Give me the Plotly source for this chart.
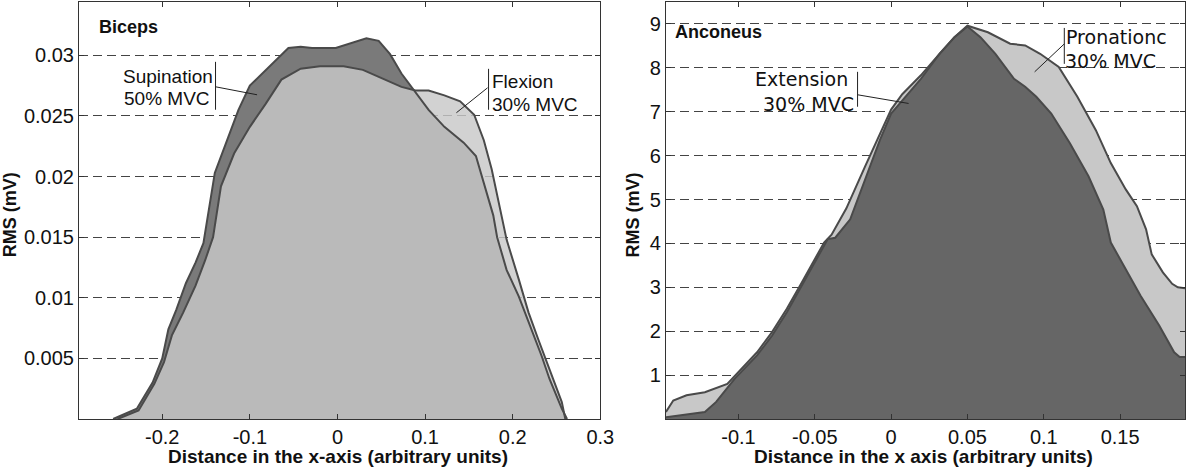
import plotly.graph_objects as go

# ---------------- data: Biceps ----------------
sup_x = [-0.256, -0.229, -0.211, -0.2, -0.193, -0.184, -0.173, -0.162, -0.153, -0.14, -0.127,
         -0.113, -0.1, -0.082, -0.056, -0.042, -0.029, -0.002, 0.016, 0.033, 0.047, 0.06,
         0.073, 0.089, 0.104, 0.122, 0.144, 0.158, 0.1667, 0.1778, 0.1822, 0.193, 0.207,
         0.22, 0.233, 0.242, 0.256, 0.262]
sup_y = [0.0, 0.00085, 0.0030, 0.0050, 0.0074, 0.0090, 0.0112, 0.0129, 0.0145, 0.0203, 0.0228,
         0.0255, 0.0275, 0.0288, 0.0306, 0.0307, 0.0306, 0.0306, 0.0310, 0.0314, 0.0312, 0.0301,
         0.0285, 0.0269, 0.0255, 0.0241, 0.0228, 0.0217, 0.0195, 0.0168, 0.0150, 0.0123, 0.0101,
         0.0077, 0.0052, 0.0033, 0.00085, 0.0]

flex_x = [-0.251, -0.227, -0.209, -0.198, -0.189, -0.176, -0.162, -0.151, -0.142, -0.133,
          -0.118, -0.1, -0.082, -0.064, -0.042, -0.02, 0.007, 0.029, 0.051, 0.073, 0.089,
          0.104, 0.122, 0.14, 0.156, 0.167, 0.176, 0.184, 0.193, 0.207, 0.218, 0.229, 0.242,
          0.256, 0.26]
flex_y = [0.0, 0.0007, 0.0029, 0.0047, 0.0069, 0.0088, 0.0110, 0.0131, 0.0150, 0.0192,
          0.0219, 0.0241, 0.0260, 0.0280, 0.0289, 0.0291, 0.0291, 0.0288, 0.0281, 0.0274, 0.0271,
          0.0271, 0.0267, 0.0262, 0.0251, 0.0230, 0.0206, 0.0178, 0.0148, 0.0115, 0.0088, 0.0066,
          0.0041, 0.0014, 0.0]

# ---------------- data: Anconeus ----------------
ext_x = [-0.1475, -0.122, -0.1146, -0.1024, -0.0878, -0.078, -0.0683, -0.0585, -0.0488, -0.0415,
         -0.0366, -0.0268, -0.0171, -0.0073, 0.0, 0.0073, 0.0195, 0.0317, 0.0415, 0.05, 0.0585,
         0.0683, 0.0805, 0.0878, 0.0951, 0.1049, 0.1171, 0.1293, 0.139, 0.1439, 0.1537, 0.1634,
         0.1756, 0.1854, 0.189, 0.1925]
ext_y = [0.04, 0.16, 0.39, 0.92, 1.45, 1.9, 2.43, 3.04, 3.64, 4.1,
         4.13, 4.55, 5.45, 6.36, 6.96, 7.26, 7.75, 8.32, 8.7, 8.94, 8.7,
         8.32, 7.75, 7.57, 7.34, 6.96, 6.28, 5.53, 4.77, 4.02, 3.42, 2.81,
         2.13, 1.52, 1.41, 1.41]

pro_x = [-0.1475, -0.1427, -0.134, -0.122, -0.1073, -0.1, -0.0878, -0.078, -0.0683, -0.0585,
         -0.0488, -0.0439, -0.039, -0.0293, -0.0171, -0.0073, 0.0, 0.0073, 0.0195, 0.0317, 0.0415,
         0.05, 0.0634, 0.078, 0.0878, 0.0976, 0.1098, 0.122, 0.1341, 0.1439, 0.1537, 0.161,
         0.167, 0.1707, 0.178, 0.1841, 0.1878, 0.1925]
pro_y = [0.16, 0.42, 0.54, 0.61, 0.8, 1.07, 1.52, 1.98, 2.51, 3.11,
         3.72, 4.02, 4.2, 4.8, 5.75, 6.5, 7.05, 7.4, 7.83, 8.32, 8.7,
         8.96, 8.81, 8.55, 8.51, 8.32, 8.02, 7.34, 6.58, 5.83, 5.23, 4.85,
         4.32, 3.75, 3.34, 3.08, 3.0, 2.98]

left_xticks = [-0.2, -0.1, 0, 0.1, 0.2, 0.3]
left_xticklabels = ["-0.2", "-0.1", "0", "0.1", "0.2", "0.3"]
left_yticks = [0.005, 0.01, 0.015, 0.02, 0.025, 0.03]
left_yticklabels = ["0.005", "0.01", "0.015", "0.02", "0.025", "0.03"]
right_xticks = [-0.1, -0.05, 0, 0.05, 0.1, 0.15]
right_xticklabels = ["-0.1", "-0.05", "0", "0.05", "0.1", "0.15"]
right_yticks = [1, 2, 3, 4, 5, 6, 7, 8, 9]
right_yticklabels = [str(v) for v in right_yticks]

LINE = "#4a4a4a"
fig = go.Figure()

# Biceps fills
fig.add_trace(go.Scatter(x=sup_x, y=sup_y, mode="lines", fill="tozeroy",
                         fillcolor="#7a7a7a", line=dict(width=0), xaxis="x", yaxis="y",
                         hoverinfo="skip"))
fig.add_trace(go.Scatter(x=flex_x, y=flex_y, mode="lines", fill="tozeroy",
                         fillcolor="rgba(200,200,200,0.82)", line=dict(width=0),
                         xaxis="x", yaxis="y", hoverinfo="skip"))
fig.add_trace(go.Scatter(x=sup_x, y=sup_y, mode="lines", line=dict(color=LINE, width=2),
                         xaxis="x", yaxis="y", name="Supination 50% MVC"))
fig.add_trace(go.Scatter(x=flex_x, y=flex_y, mode="lines", line=dict(color=LINE, width=2),
                         xaxis="x", yaxis="y", name="Flexion 30% MVC"))

# Anconeus fills
fig.add_trace(go.Scatter(x=pro_x, y=pro_y, mode="lines", fill="tozeroy",
                         fillcolor="#c8c8c8", line=dict(width=0), xaxis="x2", yaxis="y2",
                         hoverinfo="skip"))
fig.add_trace(go.Scatter(x=ext_x, y=ext_y, mode="lines", fill="tozeroy",
                         fillcolor="#666666", line=dict(width=0), xaxis="x2", yaxis="y2",
                         hoverinfo="skip"))
fig.add_trace(go.Scatter(x=pro_x, y=pro_y, mode="lines", line=dict(color=LINE, width=2),
                         xaxis="x2", yaxis="y2", name="Pronation 30% MVC"))
fig.add_trace(go.Scatter(x=ext_x, y=ext_y, mode="lines", line=dict(color=LINE, width=2),
                         xaxis="x2", yaxis="y2", name="Extension 30% MVC"))

ML, MR, MT, MB = 79, 3, 1, 50
W, H = 1200, 469
PW = W - ML - MR
PH = H - MT - MB


def px(x):
    return (x - ML) / PW


def py(y):
    return (H - MB - y) / PH


TICKFONT = dict(family="Liberation Sans, Arial", size=20, color="#111")
axis_common = dict(showline=True, linecolor="#333", linewidth=1, mirror="ticks",
                   ticks="inside", ticklen=5, tickcolor="#333", zeroline=False,
                   tickfont=TICKFONT)

fig.update_layout(
    width=W, height=H, showlegend=False,
    paper_bgcolor="white", plot_bgcolor="white",
    margin=dict(l=ML, r=MR, t=MT, b=MB),
    xaxis=dict(domain=[0, px(606)], range=[-0.295, 0.3], tickvals=left_xticks,
               ticktext=left_xticklabels, showgrid=False, anchor="y", **axis_common),
    yaxis=dict(domain=[0, 1], range=[0, 0.0344], tickvals=left_yticks,
               ticktext=left_yticklabels, showgrid=True, gridcolor="#444",
               griddash="9px,5px", gridwidth=1, anchor="x", **axis_common),
    xaxis2=dict(domain=[px(672.3), 1], range=[-0.1475, 0.1925], tickvals=right_xticks,
                ticktext=right_xticklabels, showgrid=False, anchor="y2", **axis_common),
    yaxis2=dict(domain=[0, 1], range=[0, 9.5], tickvals=right_yticks,
                ticktext=right_yticklabels, showgrid=True, gridcolor="#444",
                griddash="9px,5px", gridwidth=1, anchor="x2", **axis_common),
)

ARIAL = "Liberation Sans, Arial"
DEJAVU = "DejaVu Sans"
annos = [
    ("<b>Biceps</b>", 97, 26, ARIAL, 18, "left", 0),
    ("Supination", 121, 76, ARIAL, 19, "left", 0),
    ("50% MVC", 122, 98, ARIAL, 19, "left", 0),
    ("Flexion", 494, 81, ARIAL, 19, "left", 0),
    ("30% MVC", 494, 104, ARIAL, 19, "left", 0),
    ("<b>Anconeus</b>", 679, 31, ARIAL, 18, "left", 0),
    ("Extension", 760, 78, DEJAVU, 19, "left", 0),
    ("30% MVC", 768.5, 103, DEJAVU, 19, "left", 0),
    ("Pronationc", 1074.7, 36, DEJAVU, 19, "left", 0),
    ("30% MVC", 1074, 60, DEJAVU, 19, "left", 0),
    ("<b>Distance in the x-axis (arbitrary units)</b>", 341, 457, ARIAL, 19, "center", 0),
    ("<b>Distance in the x axis (arbitrary units)</b>", 933, 457, ARIAL, 19, "center", 0),
    ("<b>RMS (mV)</b>", 10, 214, ARIAL, 18, "center", -90),
    ("<b>RMS (mV)</b>", 640, 214, ARIAL, 18, "center", -90),
]
for text, x, y, fam, size, anchor, ang in annos:
    fig.add_annotation(text=text, xref="paper", yref="paper", x=px(x), y=py(y),
                       xanchor=anchor, yanchor="middle", showarrow=False, textangle=ang,
                       font=dict(family=fam, size=size, color="#111"))

segs = [
    (217, 61, 217, 109), (217, 86, 259, 94),
    (493, 68, 493, 109), (492, 87, 460.5, 112),
    (866, 71, 866, 106), (866, 94, 917.6, 102.7),
    (1075, 27, 1075, 63), (1075, 43, 1045, 71),
]
for x0, y0, x1, y1 in segs:
    fig.add_shape(type="line", xref="paper", yref="paper", x0=px(x0), y0=py(y0),
                  x1=px(x1), y1=py(y1), line=dict(color="#222", width=1))

fig.write_html("out.html", config={"displayModeBar": False},
               post_script="document.body.style.margin='0';document.body.style.overflow='hidden';")
